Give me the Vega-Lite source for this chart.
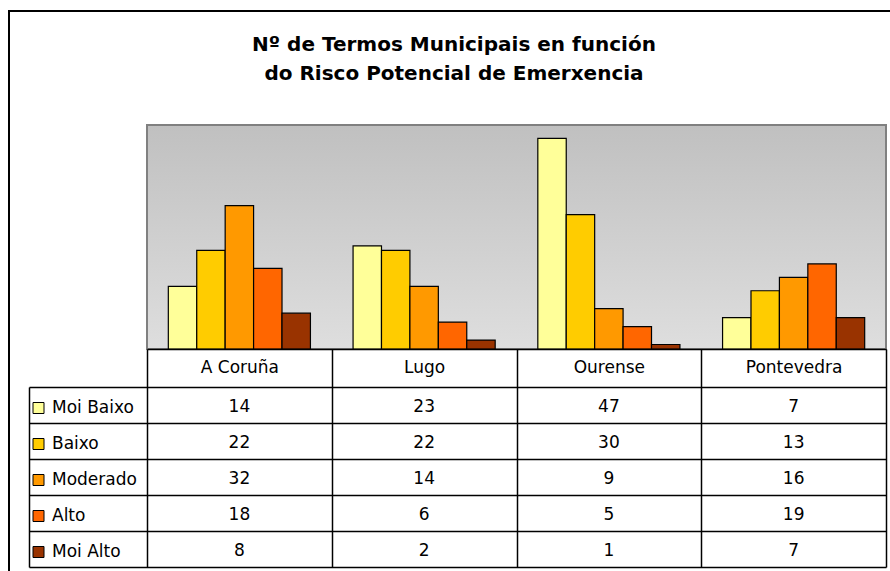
{
  "$schema": "https://vega.github.io/schema/vega-lite/v6.json",
  "width": 900,
  "height": 580,
  "autosize": {"type": "none"},
  "padding": {"left": 9, "top": 11, "right": -19, "bottom": -20},
  "background": "white",
  "config": {
    "view": {"stroke": "black", "strokeWidth": 2},
    "font": "DejaVu Sans"
  },
  "title": {
    "text": ["Nº de Termos Municipais en función", "do Risco Potencial de Emerxencia"],
    "font": "DejaVu Sans",
    "fontSize": 20,
    "fontWeight": "bold",
    "color": "black",
    "anchor": "middle",
    "frame": "group",
    "offset": -89,
    "baseline": "alphabetic",
    "lineHeight": 29,
    "dx": -5
  },
  "data": {
    "values": [
      {"region": "A Coruña", "class": "Moi Baixo", "value": 14},
      {"region": "A Coruña", "class": "Baixo", "value": 22},
      {"region": "A Coruña", "class": "Moderado", "value": 32},
      {"region": "A Coruña", "class": "Alto", "value": 18},
      {"region": "A Coruña", "class": "Moi Alto", "value": 8},
      {"region": "Lugo", "class": "Moi Baixo", "value": 23},
      {"region": "Lugo", "class": "Baixo", "value": 22},
      {"region": "Lugo", "class": "Moderado", "value": 14},
      {"region": "Lugo", "class": "Alto", "value": 6},
      {"region": "Lugo", "class": "Moi Alto", "value": 2},
      {"region": "Ourense", "class": "Moi Baixo", "value": 47},
      {"region": "Ourense", "class": "Baixo", "value": 30},
      {"region": "Ourense", "class": "Moderado", "value": 9},
      {"region": "Ourense", "class": "Alto", "value": 5},
      {"region": "Ourense", "class": "Moi Alto", "value": 1},
      {"region": "Pontevedra", "class": "Moi Baixo", "value": 7},
      {"region": "Pontevedra", "class": "Baixo", "value": 13},
      {"region": "Pontevedra", "class": "Moderado", "value": 16},
      {"region": "Pontevedra", "class": "Alto", "value": 19},
      {"region": "Pontevedra", "class": "Moi Alto", "value": 7}
    ]
  },
  "layer": [
    {
      "data": {"values": [{"label": "plot"}]},
      "mark": {
        "type": "bar",
        "fill": {
          "gradient": "linear",
          "x1": 0, "y1": 0, "x2": 0, "y2": 1,
          "stops": [
            {"offset": 0, "color": "#c0c0c0"},
            {"offset": 1, "color": "#dedede"}
          ]
        },
        "stroke": "#808080",
        "strokeWidth": 2
      },
      "encoding": {
        "x": {"field": "label", "type": "nominal", "scale": {"range": [138, 877], "paddingInner": 0, "paddingOuter": 0}, "axis": null},
        "y": {"datum": 0, "type": "quantitative", "scale": {"domain": [0, 50], "range": [338, 114]}, "axis": null},
        "y2": {"datum": 50}
      }
    },
    {
      "mark": {"type": "bar", "stroke": "black", "strokeWidth": 1.2},
      "encoding": {
        "x": {"field": "region", "type": "nominal", "sort": ["A Coruña", "Lugo", "Ourense", "Pontevedra"], "scale": {"range": [138, 877], "paddingInner": 0, "paddingOuter": 0}, "axis": null},
        "xOffset": {"field": "class", "type": "nominal", "sort": ["Moi Baixo", "Baixo", "Moderado", "Alto", "Moi Alto"], "scale": {"paddingInner": 0, "paddingOuter": 0.75}},
        "y": {"field": "value", "type": "quantitative", "scale": {"domain": [0, 50], "range": [338, 114]}, "axis": null},
        "color": {
          "field": "class",
          "type": "nominal",
          "scale": {"domain": ["Moi Baixo", "Baixo", "Moderado", "Alto", "Moi Alto"], "range": ["#ffff99", "#ffcc00", "#ff9900", "#ff6600", "#993300"]},
          "legend": {
            "orient": "none",
            "legendX": 21,
            "legendY": 379,
            "title": null,
            "padding": 0,
            "symbolType": "square",
            "symbolSize": 121,
            "symbolStrokeColor": "black",
            "symbolStrokeWidth": 1,
            "symbolOpacity": 1,
            "labelFont": "DejaVu Sans",
            "labelFontSize": 17,
            "labelColor": "black",
            "labelOffset": 5,
            "clipHeight": 36,
            "rowPadding": 0
          }
        }
      }
    },
    {
      "mark": {"type": "text", "font": "DejaVu Sans", "fontSize": 17, "color": "black", "dy": 2},
      "encoding": {
        "x": {
          "field": "region", "type": "nominal", "sort": ["A Coruña", "Lugo", "Ourense", "Pontevedra"],
          "scale": {"range": [138, 877], "paddingInner": 0, "paddingOuter": 0},
          "axis": {
            "orient": "top", "offset": -338, "title": null, "tickBand": "extent", "tickSize": -218,
            "tickColor": "black", "tickWidth": 1.5, "domainColor": "black", "domainWidth": 1.5,
            "labelFont": "DejaVu Sans", "labelFontSize": 17, "labelColor": "black", "labelAngle": 0,
            "labelBaseline": "middle", "labelPadding": 200, "zindex": 1, "grid": false
          }
        },
        "y": {
          "field": "class", "type": "nominal", "sort": ["Moi Baixo", "Baixo", "Moderado", "Alto", "Moi Alto"],
          "scale": {"range": [376, 556], "paddingInner": 0, "paddingOuter": 0},
          "axis": {
            "orient": "left", "offset": -20, "title": null, "tickBand": "extent", "tickSize": -857,
            "labels": false, "tickColor": "black", "tickWidth": 1.5, "domainColor": "black", "domainWidth": 1.5,
            "zindex": 1, "grid": false
          }
        },
        "text": {"field": "value", "type": "quantitative"}
      }
    }
  ],
  "resolve": {"scale": {"x": "independent", "y": "independent"}}
}
